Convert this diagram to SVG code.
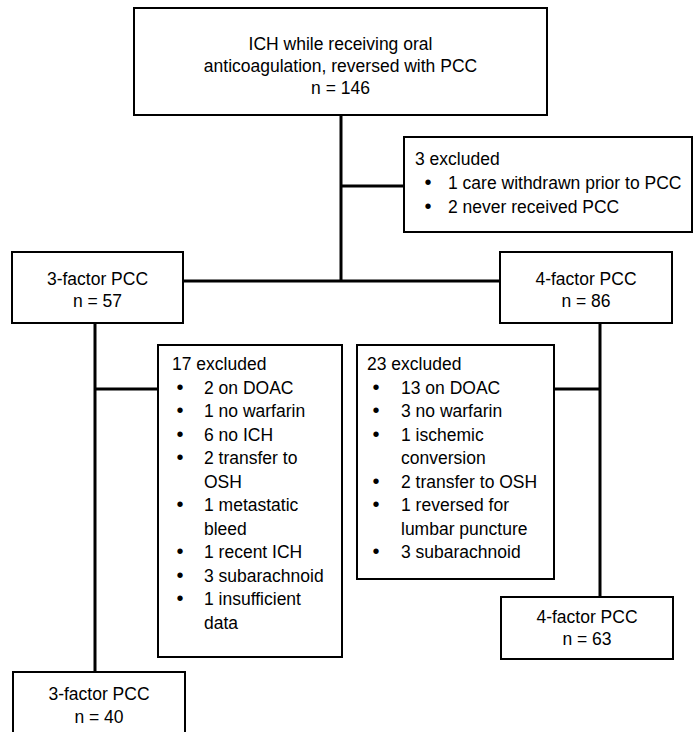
<svg xmlns="http://www.w3.org/2000/svg" width="694" height="732" viewBox="0 0 694 732">
<style>
.box{fill:#fff;stroke:#000;stroke-width:2}
.ln{stroke:#000;stroke-width:3;fill:none}
text{font-family:"Liberation Sans",Arial,sans-serif;font-size:17.5px;fill:#000}
.c{text-anchor:middle}
.b{text-anchor:middle;font-size:20px}
</style>
<rect width="694" height="732" fill="#fff"/>
<g id="connectors">
<line class="ln" x1="341" y1="115" x2="341" y2="281"/>
<line class="ln" x1="341" y1="186" x2="404" y2="186"/>
<line class="ln" x1="183" y1="281" x2="500" y2="281"/>
<line class="ln" x1="95" y1="323" x2="95" y2="672"/>
<line class="ln" x1="95" y1="389" x2="158" y2="389"/>
<line class="ln" x1="600" y1="323" x2="600" y2="597"/>
<line class="ln" x1="554" y1="389" x2="600" y2="389"/>
</g>
<g id="n_top">
<rect class="box" x="134" y="8" width="413" height="107"/>
<text class="c" x="340.5" y="50">ICH while receiving oral</text>
<text class="c" x="340.5" y="72">anticoagulation, reversed with PCC</text>
<text class="c" x="340.5" y="94">n = 146</text>
</g>
<g id="n_excl3">
<rect class="box" x="404" y="137" width="288" height="95"/>
<text x="415" y="165">3 excluded</text>
<text class="b" x="428" y="189">•</text><text x="448" y="189">1 care withdrawn prior to PCC</text>
<text class="b" x="428" y="213">•</text><text x="448" y="213">2 never received PCC</text>
</g>
<g id="n_3f">
<rect class="box" x="12" y="252" width="171" height="71"/>
<text class="c" x="97.5" y="285">3-factor PCC</text>
<text class="c" x="97.5" y="307">n = 57</text>
</g>
<g id="n_4f">
<rect class="box" x="500" y="252" width="172" height="71"/>
<text class="c" x="586" y="285">4-factor PCC</text>
<text class="c" x="586" y="307">n = 86</text>
</g>
<g id="n_excl17">
<rect class="box" x="158" y="345" width="184" height="312"/>
<text x="172" y="370">17 excluded</text>
<text class="b" x="180" y="393.5">•</text><text x="204" y="393.5">2 on DOAC</text>
<text class="b" x="180" y="417">•</text><text x="204" y="417">1 no warfarin</text>
<text class="b" x="180" y="440.5">•</text><text x="204" y="440.5">6 no ICH</text>
<text class="b" x="180" y="464">•</text><text x="204" y="464">2 transfer to</text>
<text x="204" y="487.5">OSH</text>
<text class="b" x="180" y="511">•</text><text x="204" y="511">1 metastatic</text>
<text x="204" y="534.5">bleed</text>
<text class="b" x="180" y="558">•</text><text x="204" y="558">1 recent ICH</text>
<text class="b" x="180" y="581.5">•</text><text x="204" y="581.5">3 subarachnoid</text>
<text class="b" x="180" y="605">•</text><text x="204" y="605">1 insufficient</text>
<text x="204" y="628.5">data</text>
</g>
<g id="n_excl23">
<rect class="box" x="357" y="345" width="197" height="234"/>
<text x="367" y="370">23 excluded</text>
<text class="b" x="376" y="393.5">•</text><text x="401" y="393.5">13 on DOAC</text>
<text class="b" x="376" y="417">•</text><text x="401" y="417">3 no warfarin</text>
<text class="b" x="376" y="440.5">•</text><text x="401" y="440.5">1 ischemic</text>
<text x="401" y="464">conversion</text>
<text class="b" x="376" y="487.5">•</text><text x="401" y="487.5">2 transfer to OSH</text>
<text class="b" x="376" y="511">•</text><text x="401" y="511">1 reversed for</text>
<text x="401" y="534.5">lumbar puncture</text>
<text class="b" x="376" y="558">•</text><text x="401" y="558">3 subarachnoid</text>
</g>
<g id="n_4f63">
<rect class="box" x="501" y="597" width="172" height="62"/>
<text class="c" x="587" y="623">4-factor PCC</text>
<text class="c" x="587" y="645">n = 63</text>
</g>
<g id="n_3f40">
<rect class="box" x="13" y="672" width="172" height="80"/>
<text class="c" x="99" y="700">3-factor PCC</text>
<text class="c" x="99" y="723">n = 40</text>
</g>
</svg>
